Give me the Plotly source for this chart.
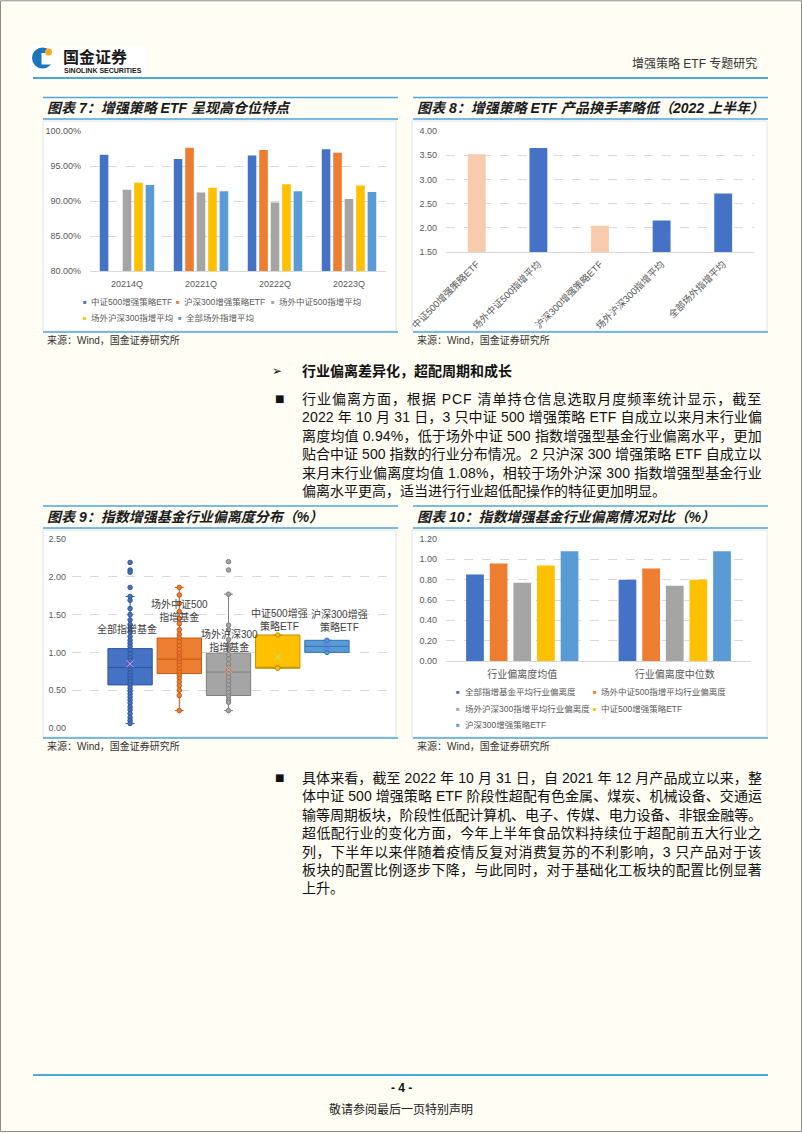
import plotly.graph_objects as go

W, H = 802, 1133
def px(x): return x / W
def py(y): return 1 - y / H

BLUE = '#4472C4'; ORANGE = '#ED7D31'; GRAY = '#A5A5A5'; YELLOW = '#FFC000'; LBLUE = '#5B9BD5'; PEACH = '#F8CBAD'
DARK = {BLUE: '#2F5597', ORANGE: '#C55A11', GRAY: '#7F7F7F', YELLOW: '#BF9000', LBLUE: '#2E75B6'}
FONT = 'Liberation Sans, Noto Sans CJK SC, sans-serif'
LINEBLUE = '#4DA6DC'
TICK = '#595959'

# ---------------- data ----------------
# Chart 7
c7_quarters = ['20214Q', '20221Q', '20222Q', '20223Q']
c7_names = ['中证500增强策略ETF', '沪深300增强策略ETF', '场外中证500指增平均', '场外沪深300指增平均', '全部场外指增平均']
c7_zz500_etf = [96.6, 96.0, 96.5, 97.4]
c7_hs300_etf = [None, 97.6, 97.3, 96.9]
c7_otc_zz500 = [91.6, 91.2, 89.8, 90.3]
c7_otc_hs300 = [92.6, 91.9, 92.4, 92.2]
c7_otc_all = [92.3, 91.4, 91.4, 91.3]
c7_ticks = [80, 85, 90, 95, 100]

# Chart 8
c8_categories = ['中证500增强策略ETF', '场外中证500指增平均', '沪深300增强策略ETF', '场外沪深300指增平均', '全部场外指增平均']
c8_turnover = [3.52, 3.65, 2.04, 2.15, 2.71]
c8_is_etf = [True, False, True, False, False]

# Chart 9
c9_groups = ['全部指增基金', '场外中证500<br>指增基金', '场外沪深300<br>指增基金', '中证500增强<br>策略ETF', '沪深300增强<br>策略ETF']
c9_q1 = [0.57, 0.72, 0.43, 0.79, 1.00]
c9_median = [0.80, 0.91, 0.74, 0.80, 1.08]
c9_q3 = [1.05, 1.19, 0.99, 1.23, 1.16]
c9_lower = [0.06, 0.23, 0.23, 0.79, 1.00]
c9_upper = [1.74, 1.86, 1.77, 1.23, 1.16]
c9_mean = [0.85, 0.96, 0.77, 0.94, 1.08]
c9_points_all = [2.19, 2.09, 2.06, 1.86, 1.74, 1.69, 1.58, 1.50, 1.43, 1.37, 1.32, 1.27, 1.21, 1.16,
                 1.12, 1.08, 1.03, 0.98, 0.93, 0.89, 0.85, 0.81, 0.77, 0.73, 0.69, 0.65, 0.61, 0.57,
                 0.53, 0.49, 0.45, 0.41, 0.37, 0.33, 0.28, 0.24, 0.19, 0.14, 0.10, 0.06]
c9_points_otc500 = [1.86, 1.76, 1.65, 1.54, 1.45, 1.38, 1.30, 1.24, 1.19, 1.14, 1.09, 1.04, 0.99, 0.95,
                    0.91, 0.87, 0.83, 0.78, 0.74, 0.70, 0.66, 0.61, 0.56, 0.50, 0.43, 0.23]
c9_points_otc300 = [2.20, 2.09, 1.77, 1.36, 1.30, 1.17, 1.10, 1.04, 0.97, 0.91, 0.85, 0.80, 0.76, 0.72,
                    0.67, 0.62, 0.57, 0.52, 0.47, 0.42, 0.37, 0.34, 0.23]
c9_points_etf500 = [1.23, 0.80, 0.79]
c9_points_etf300 = [1.16, 1.00]
c9_ticks = [0, 0.5, 1.0, 1.5, 2.0, 2.5]

# Chart 10
c10_categories = ['行业偏离度均值', '行业偏离度中位数']
c10_names = ['全部指增基金平均行业偏离度', '场外中证500指增平均行业偏离度', '场外沪深300指增平均行业偏离度',
             '中证500增强策略ETF', '沪深300增强策略ETF']
c10_all = [0.85, 0.80]
c10_otc500 = [0.96, 0.91]
c10_otc300 = [0.77, 0.74]
c10_etf500 = [0.94, 0.80]
c10_etf300 = [1.08, 1.08]

# Text
header_right = '增强策略 ETF 专题研究'
titles = ['图表 7：增强策略 ETF 呈现高仓位特点', '图表 8：增强策略 ETF 产品换手率略低（2022 上半年）',
          '图表 9：指数增强基金行业偏离度分布（%）', '图表 10：指数增强基金行业偏离情况对比（%）']
source = '来源：Wind，国金证券研究所'
heading = '行业偏离差异化，超配周期和成长'
para1 = ['行业偏离方面，根据 PCF 清单持仓信息选取月度频率统计显示，截至',
         '2022 年 10 月 31 日，3 只中证 500 增强策略 ETF 自成立以来月末行业偏',
         '离度均值 0.94%，低于场外中证 500 指数增强型基金行业偏离水平，更加',
         '贴合中证 500 指数的行业分布情况。2 只沪深 300 增强策略 ETF 自成立以',
         '来月末行业偏离度均值 1.08%，相较于场外沪深 300 指数增强型基金行业',
         '偏离水平更高，适当进行行业超低配操作的特征更加明显。']
para2 = ['具体来看，截至 2022 年 10 月 31 日，自 2021 年 12 月产品成立以来，整',
         '体中证 500 增强策略 ETF 阶段性超配有色金属、煤炭、机械设备、交通运',
         '输等周期板块，阶段性低配计算机、电子、传媒、电力设备、非银金融等。',
         '超低配行业的变化方面，今年上半年食品饮料持续位于超配前五大行业之',
         '列，下半年以来伴随着疫情反复对消费复苏的不利影响，3 只产品对于该',
         '板块的配置比例逐步下降，与此同时，对于基础化工板块的配置比例显著',
         '上升。']

fig = go.Figure()

# ---------------- Chart 7 ----------------
c7_colors = [BLUE, ORANGE, GRAY, YELLOW, LBLUE]
for name, vals, col in zip(c7_names, [c7_zz500_etf, c7_hs300_etf, c7_otc_zz500, c7_otc_hs300, c7_otc_all], c7_colors):
    fig.add_trace(go.Bar(x=c7_quarters, y=vals, name=name, marker=dict(color=col, line=dict(width=0)),
                         xaxis='x', yaxis='y', showlegend=False))

# ---------------- Chart 8 ----------------
fig.add_trace(go.Bar(x=c8_categories, y=c8_turnover, width=0.29,
                     marker=dict(color=[PEACH if e else BLUE for e in c8_is_etf], line=dict(width=0)),
                     xaxis='x2', yaxis='y2', showlegend=False))

# ---------------- Chart 9 ----------------
c9_colors = [BLUE, ORANGE, GRAY, YELLOW, LBLUE]
c9_points = [c9_points_all, c9_points_otc500, c9_points_otc300, c9_points_etf500, c9_points_etf300]
for i, col in enumerate(c9_colors):
    pos = i + 1
    fig.add_trace(go.Box(x=[pos], q1=[c9_q1[i]], median=[c9_median[i]], q3=[c9_q3[i]],
                         lowerfence=[c9_lower[i]], upperfence=[c9_upper[i]], width=0.9,
                         fillcolor=col, line=dict(color=DARK[col], width=1), whiskerwidth=0.2,
                         boxpoints=False, xaxis='x3', yaxis='y3', showlegend=False,
                         name=c9_groups[i].replace('<br>', '')))
    fig.add_trace(go.Scatter(x=[pos] * len(c9_points[i]), y=c9_points[i], mode='markers',
                             marker=dict(color=col, size=4.5, line=dict(color=DARK[col], width=1)),
                             xaxis='x3', yaxis='y3', showlegend=False))
    fig.add_trace(go.Scatter(x=[pos], y=[c9_mean[i]], mode='markers',
                             marker=dict(symbol='x-thin-open', size=7, line=dict(color=DARK[col], width=1)),
                             xaxis='x3', yaxis='y3', showlegend=False))

# ---------------- Chart 10 ----------------
for name, vals, col in zip(c10_names, [c10_all, c10_otc500, c10_otc300, c10_etf500, c10_etf300], c7_colors):
    fig.add_trace(go.Bar(x=c10_categories, y=vals, name=name, marker=dict(color=col, line=dict(width=0)),
                         xaxis='x4', yaxis='y4', showlegend=False))

# ---------------- axes ----------------
tickfont = dict(family=FONT, size=9, color=TICK)
common_x = dict(showgrid=False, zeroline=False, ticks='', automargin=False, tickfont=tickfont,
                showline=True, linecolor='#D9D9D9', linewidth=1, fixedrange=True)
common_y = dict(showgrid=True, gridcolor='#D9D9D9', griddash='dash', gridwidth=1, zeroline=False,
                ticks='', automargin=False, tickfont=tickfont, showline=False, fixedrange=True)

fig.update_layout(
    xaxis=dict(common_x, domain=[px(90), px(386)], type='category', anchor='y', ticklabelstandoff=4),
    yaxis=dict(common_y, domain=[py(271), py(131)], range=[80, 100], tickvals=c7_ticks,
               ticktext=[f'{v:.2f}%' for v in c7_ticks], anchor='x', ticklabelstandoff=8),
    xaxis2=dict(common_x, domain=[px(446), px(754)], type='category', anchor='y2', tickangle=-45,
                ticklabelstandoff=2, tickfont=dict(family=FONT, size=9.5, color=TICK)),
    yaxis2=dict(common_y, domain=[py(252), py(131)], range=[1.5, 4.0], dtick=0.5, tickformat='.2f',
                anchor='x2', ticklabelstandoff=8),
    xaxis3=dict(common_x, domain=[px(72), px(387)], range=[-0.18, 6.22], showticklabels=False,
                showline=False, anchor='y3'),
    yaxis3=dict(common_y, domain=[py(728), py(539)], range=[0, 2.5], tickvals=c9_ticks, tickformat='.2f',
                anchor='x3', ticklabelstandoff=5),
    xaxis4=dict(common_x, domain=[px(446), px(751)], type='category', anchor='y4', ticklabelstandoff=4,
                tickfont=dict(family=FONT, size=10, color=TICK)),
    yaxis4=dict(common_y, domain=[py(661), py(539)], range=[0, 1.2], dtick=0.2, tickformat='.2f',
                anchor='x4', ticklabelstandoff=8),
)

# ---------------- shapes ----------------
shapes = []
def rect(x0, y0, x1, y1, fill, line=None, lw=0, layer='below'):
    shapes.append(dict(type='rect', xref='paper', yref='paper', x0=px(x0), x1=px(x1), y0=py(y0), y1=py(y1),
                       fillcolor=fill, line=dict(color=line or fill, width=lw), layer=layer))
def hline(x0, x1, y, color=LINEBLUE, w=1.6):
    shapes.append(dict(type='line', xref='paper', yref='paper', x0=px(x0), x1=px(x1), y0=py(y), y1=py(y),
                       line=dict(color=color, width=w)))

# page frame
shapes.append(dict(type='rect', xref='paper', yref='paper', x0=px(0.5), x1=px(801.5), y0=py(1131.5), y1=py(0.8),
                   line=dict(color='#8C8C8C', width=1), fillcolor='rgba(0,0,0,0)'))
# chart white boxes
for (x0, y0, x1, y1) in [(43, 121, 396, 331), (412, 121, 767, 331), (43, 530, 396, 737), (412, 530, 767, 737)]:
    rect(x0, y0, x1, y1, 'white', '#E3E3E3', 1)
# logo
rect(30, 46, 146, 75, 'white')
shapes.append(dict(type='circle', xref='paper', yref='paper', x0=px(32), x1=px(53), y0=py(68.5), y1=py(47.5),
                   fillcolor='#1B75BC', line=dict(width=0), layer='above'))
shapes.append(dict(type='rect', xref='paper', yref='paper', x0=px(41.5), x1=px(54), y0=py(64.5), y1=py(53),
                   fillcolor='white', line=dict(width=0), layer='above'))
shapes.append(dict(type='circle', xref='paper', yref='paper', x0=px(45), x1=px(52), y0=py(55.5), y1=py(48.5),
                   fillcolor='#F6A821', line=dict(width=0), layer='above'))
# header / footer lines
hline(33, 768, 78, w=2)
hline(33, 768, 1075, w=2)
# chart title rules
for (x0, x1) in [(43, 398), (413, 768)]:
    for y in [97.5, 119, 332]:
        hline(x0, x1, y)
    for y in [506, 528, 738]:
        hline(x0, x1, y)

fig.update_layout(shapes=shapes)

# ---------------- annotations ----------------
ann = []
def text(x, y, s, size=14, color='#111111', anchor='left', family=FONT, xref='paper', yref='paper'):
    ann.append(dict(x=px(x) if xref == 'paper' else x, y=py(y) if yref == 'paper' else y,
                    xref=xref, yref=yref, text=s, showarrow=False,
                    xanchor=anchor, yanchor='middle', font=dict(family=family, size=size, color=color)))

# approximate advance widths (per 1000 em, Arial/Liberation metrics) used to justify body lines
LATIN_W = {' ': 278, '.': 278, '%': 889, 'P': 667, 'C': 722, 'F': 611, 'E': 667, 'T': 611}
def natural_width(s, size):
    w = 0.0
    for ch in s:
        if ord(ch) >= 0x2E80:
            w += size
        else:
            w += LATIN_W.get(ch, 556) * size / 1000
    return w

def justified(s, size, target):
    ls = (target - natural_width(s, size)) / len(s)
    return f'<span style="letter-spacing:{ls:.2f}px">{s}</span>'

# header
text(61, 56, '<b>国金证券</b>', size=16, color='#1A1A1A', family='Noto Sans CJK SC')
text(62, 70, '<b>SINOLINK SECURITIES</b>', size=7, color='#1A1A1A')
text(759, 63, header_right, size=12, color='#333333', anchor='right')
# titles
for (x, y), t in zip([(45, 108), (415, 108), (45, 517), (415, 517)], titles):
    text(x, y, '<b><i>' + t + '</i></b>', size=14, color='#1A1A1A')
# sources
for (x, y) in [(45, 340.5), (415, 340.5), (45, 745.5), (415, 745.5)]:
    text(x, y, source, size=10, color='#333333')

# chart 7 legend
c7_leg = [(0, 84.5, 302), (1, 178, 302), (2, 272.5, 302), (3, 84.5, 318.3), (4, 179.5, 318.3)]
for idx, mx, my in c7_leg:
    text(mx, my, '■', size=6, color=c7_colors[idx], anchor='center', family='Liberation Sans')
    text(mx + 4, my, c7_names[idx], size=8.5, color=TICK)
# chart 10 legend
c10_leg = [(0, 458.5, 692.3), (1, 594.5, 692.3), (2, 458.5, 709), (3, 594.5, 709), (4, 458.5, 725)]
for idx, mx, my in c10_leg:
    text(mx, my, '■', size=6, color=c7_colors[idx], anchor='center', family='Liberation Sans')
    text(mx + 4, my, c10_names[idx], size=8.5, color=TICK)

# chart 9 labels (data coordinates)
c9_label_pos = [(0.94, 1.31), (2.0, 1.56), (3.02, 1.16), (4.03, 1.43), (5.26, 1.42)]
for (lx, ly), lab in zip(c9_label_pos, c9_groups):
    ann.append(dict(x=lx, y=ly, xref='x3', yref='y3', text=lab, showarrow=False, xanchor='center',
                    yanchor='middle', font=dict(family=FONT, size=10, color='#404040')))

# body text
LS = 18.4
TW = 460
text(277, 371.5, '➢', size=12, color='#111111', anchor='center', family='DejaVu Sans')
text(300, 371.5, '<b>' + heading + '</b>', size=14)
text(279, 399, '■', size=10, color='#111111', anchor='center', family='DejaVu Sans')
for i, line in enumerate(para1):
    s = justified(line, 14, TW) if i < len(para1) - 1 else line
    text(300, 399 + i * LS, s, size=14)
text(279, 778, '■', size=10, color='#111111', anchor='center', family='DejaVu Sans')
for i, line in enumerate(para2):
    s = justified(line, 14, TW) if i < len(para2) - 1 else line
    text(300, 778 + i * LS, s, size=14)

# footer
text(401, 1088, '<b>- 4 -</b>', size=12, color='#111111', anchor='center')
text(401, 1109, '敬请参阅最后一页特别声明', size=12, color='#222222', anchor='center')

fig.update_layout(annotations=ann)

fig.update_layout(
    width=W, height=H, autosize=False,
    margin=dict(l=0, r=0, t=0, b=0, pad=0),
    paper_bgcolor='#FFFDF4', plot_bgcolor='white',
    barmode='group', bargap=0.225, bargroupgap=0.25,
    boxmode='overlay', showlegend=False,
    font=dict(family=FONT, color='#333333'),
)

fig.write_html('out.html', config={'displayModeBar': False})
